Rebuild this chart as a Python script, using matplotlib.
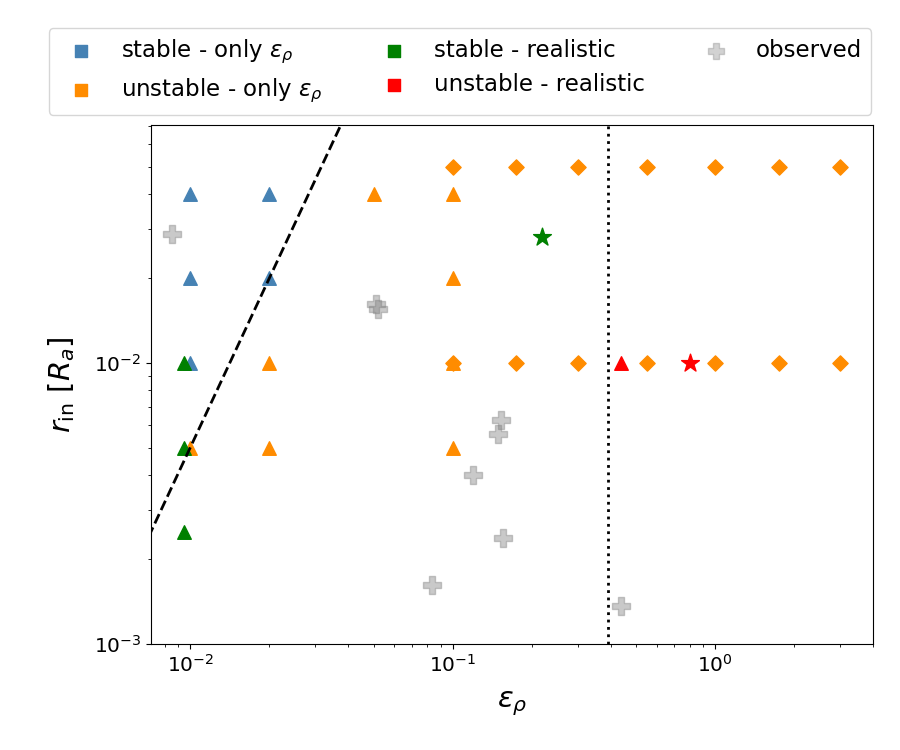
import matplotlib
matplotlib.use("Agg")
import matplotlib.pyplot as plt

# stable - only eps (triangles)
stab_x = [0.01, 0.02, 0.01, 0.02, 0.01]
stab_y = [0.04, 0.04, 0.02, 0.02, 0.01]
# unstable - only eps (triangles)
unst_x = [0.05, 0.1, 0.1, 0.02, 0.1, 0.01, 0.02, 0.1]
unst_y = [0.04, 0.04, 0.02, 0.01, 0.01, 0.005, 0.005, 0.005]
# unstable - only eps (diamonds)
dia_x = [0.1, 0.175, 0.3, 0.55, 1.0, 1.75, 3.0, 0.1, 0.175, 0.3, 0.55, 1.0, 1.75, 3.0]
dia_y = [0.05] * 7 + [0.01] * 7
# stable - realistic
sreal_x = [0.0095, 0.0095, 0.0095]
sreal_y = [0.01, 0.005, 0.0025]
sreal_star_x = [0.22]
sreal_star_y = [0.028]
# unstable - realistic
ureal_x = [0.44]
ureal_y = [0.01]
ureal_star_x = [0.80]
ureal_star_y = [0.01]
# observed
obs_x = [0.0085, 0.051, 0.052, 0.1535, 0.149, 0.120, 0.155, 0.0834, 0.44]
obs_y = [0.0288, 0.0162, 0.0156, 0.00627, 0.00557, 0.0040, 0.00239, 0.00162, 0.00137]
# dashed line endpoints and dotted vertical line
dash_x = [0.005, 0.05]
dash_y = [0.00125, 0.125]
vline_x = 0.39

c_blue = "steelblue"
c_orange = "darkorange"
c_green = "green"
c_red = "red"

fig = plt.figure(figsize=(9, 7.5), dpi=100)
ax = fig.add_axes([0.168, 0.1413, 0.802, 0.692])

ms = 95
ax.scatter(stab_x, stab_y, marker="^", s=ms, color=c_blue, zorder=3)
ax.scatter(unst_x, unst_y, marker="^", s=ms, color=c_orange, zorder=3)
ax.scatter(dia_x, dia_y, marker="D", s=60, color=c_orange, zorder=3)
ax.scatter(sreal_x, sreal_y, marker="^", s=ms, color=c_green, zorder=4)
ax.scatter(sreal_star_x, sreal_star_y, marker="*", s=180, color=c_green, zorder=4)
ax.scatter(ureal_x, ureal_y, marker="^", s=ms, color=c_red, zorder=4)
ax.scatter(ureal_star_x, ureal_star_y, marker="*", s=180, color=c_red, zorder=4)
ax.scatter(obs_x, obs_y, marker="P", s=170, facecolor="gray", edgecolor="gray",
           alpha=0.42, linewidths=1.0, zorder=2)

ax.plot(dash_x, dash_y, "k--", lw=2, zorder=5)
ax.axvline(vline_x, color="k", ls=":", lw=2, zorder=1)

ax.set_xscale("log")
ax.set_yscale("log")
ax.set_xlim(0.0071, 4.0)
ax.set_ylim(1e-3, 0.0703)
ax.tick_params(labelsize=14.5)
ax.set_xlabel(r"$\varepsilon_\rho$", fontsize=21, labelpad=10)
ax.set_ylabel(r"$r_{\rm in}\ [R_a]$", fontsize=21, labelpad=12)

h1 = ax.scatter([], [], marker="s", s=70, color=c_blue, label=r"stable - only $\varepsilon_\rho$")
h2 = ax.scatter([], [], marker="s", s=70, color=c_orange, label=r"unstable - only $\varepsilon_\rho$")
h3 = ax.scatter([], [], marker="s", s=70, color=c_green, label="stable - realistic")
h4 = ax.scatter([], [], marker="s", s=70, color=c_red, label="unstable - realistic")
h5 = ax.scatter([], [], marker="P", s=130, facecolor="gray", edgecolor="gray",
                alpha=0.35, linewidths=1.0, label="observed")
fig.legend(handles=[h1, h2, h3, h4, h5], loc="upper center",
           bbox_to_anchor=(0.511, 0.978), ncol=3, fontsize=16.5,
           labelspacing=0.5, handletextpad=0.75, columnspacing=2.1, frameon=True)

fig.savefig("out.png", dpi=100)
